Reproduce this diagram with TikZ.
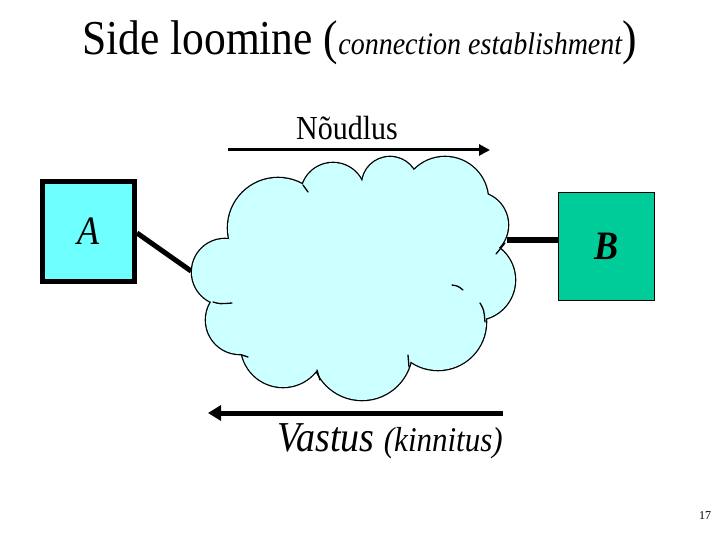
\documentclass[tikz,border=0pt]{standalone}
\usepackage{fontspec}
\setmainfont{Liberation Serif}
\newfontfamily\tit{LiberationSerif-Italic.ttf}
\newfontfamily\tbit{LiberationSerif-BoldItalic.ttf}
\usetikzlibrary{arrows.meta}
\definecolor{cloudfill}{RGB}{204,255,255}
\definecolor{boxAfill}{RGB}{110,255,255}
\definecolor{boxBfill}{RGB}{0,204,153}
\tikzset{
  boxa/.style={draw=black, line width=5pt, fill=boxAfill, minimum width=92pt, minimum height=100pt, inner sep=0pt},
  boxb/.style={draw=black, line width=0.8pt, fill=boxBfill, minimum width=96pt, minimum height=108pt, inner sep=0pt},
  link/.style={line width=5pt},
  flow/.style={line width=3pt, -{Triangle[length=11pt,width=11pt]}},
  flowb/.style={line width=5pt, -{Triangle[length=13pt,width=15pt]}},
  tail/.style={line width=1.3pt, line cap=round}
}
\newcommand{\tallbox}[1]{\scalebox{1}[1.12]{#1}}
\begin{document}
\begin{tikzpicture}[x=1pt,y=-1pt]
\useasboundingbox (0,0) rectangle (720,540);
% title
\node[anchor=base west, inner sep=0pt] (title) at (82,55)
  {\tallbox{\fontsize{43.5}{43.5}\selectfont Side loomine (\fontsize{28}{28}\selectfont\tit connection establishment\rmfamily\fontsize{43.5}{43.5}\selectfont)}};
% cloud
\foreach \cx/\cy/\r in {225/272/33, 278/228/50, 333/195/32, 390/185/28, 445/200/43, 475/225/33, 475/280/40, 438/322/48, 362/350/50, 283/345/42, 240/320/34}
  \draw[line width=2.6pt] (\cx,\cy) circle (\r pt);
\foreach \cx/\cy/\r in {225/272/33, 278/228/50, 333/195/32, 390/185/28, 445/200/43, 475/225/33, 475/280/40, 438/322/48, 362/350/50, 283/345/42, 240/320/34}
  \fill[cloudfill] (\cx,\cy) circle (\r pt);
\fill[cloudfill] (225,272) -- (278,228) -- (333,195) -- (390,185) -- (445,200) -- (475,225) -- (475,280) -- (438,322) -- (362,350) -- (283,345) -- (240,320) -- cycle;
\coordinate (cloudW) at (191,271);
\coordinate (cloudE) at (507,240);
% inner tails of the cloud
\draw[tail] (213,302) .. controls (220,304) .. (232,303);
\draw[tail] (303,185) -- (308,192);
\draw[tail] (452,285) .. controls (458,286) .. (463,290);
\draw[tail] (505,243) -- (496,254);
\draw[tail] (480,303) .. controls (484,310) .. (485,322);
\draw[tail] (408,355) -- (409,367);
\draw[tail] (317,370) -- (320,380);
\draw[tail] (242,355) -- (248,357);
% boxes
\node[boxa] (A) at (88.5,231.5) {\tallbox{\fontsize{36}{36}\selectfont\tit A}};
\node[boxb] (B) at (606,246) {\tallbox{\fontsize{36}{36}\selectfont\tbit B}};
% links
\draw[link] (A.east |- 0,233) -- (cloudW);
\draw[link, line width=6pt] (B.west |- cloudE) -- (cloudE);
% arrows
\coordinate (r1) at (228,150);
\coordinate (r2) at (490,150);
\draw[flow] (r1) -- (r2);
\node (req) at (347,128) {\tallbox{\fontsize{30}{30}\selectfont Nõudlus}};
\coordinate (s1) at (503,413);
\coordinate (s2) at (208,413);
\draw[flowb] (s1) -- (s2);
\node (resp) at (390,441) {\tallbox{\tit\fontsize{38}{38}\selectfont Vastus \fontsize{31}{31}\selectfont(kinnitus)}};
\node (page) at (705,516) {\fontsize{12}{12}\selectfont 17};
\end{tikzpicture}
\end{document}
